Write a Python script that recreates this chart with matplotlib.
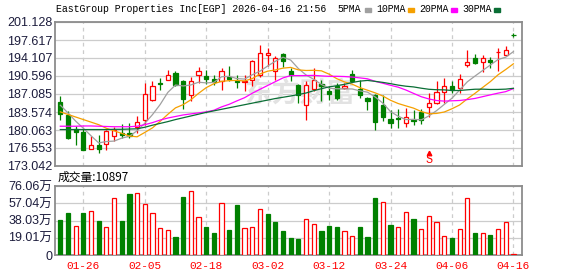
import numpy as np
import pandas as pd
import matplotlib.pyplot as plt
from matplotlib.transforms import blended_transform_factory

# trading days shown (Presidents Day and Good Friday closed)
dates = pd.bdate_range('2026-01-21', '2026-04-16')
dates = dates[~dates.isin(pd.to_datetime(['2026-02-16', '2026-04-03']))]
tick_labels = ['01-26', '02-05', '02-18', '03-02', '03-12', '03-24', '04-06', '04-16']

opens = [185.52, 182.99, 180.32, 179.67, 176.29, 177.13, 177.40, 178.83, 179.48, 179.48,
         180.58, 182.08, 185.85, 189.16, 189.75, 191.18, 189.68, 186.82, 190.72, 190.66,
         190.01, 189.68, 190.33, 189.68, 189.42, 189.81, 190.72, 194.63, 191.64, 194.89,
         191.64, 188.90, 185.00, 188.12, 189.03, 187.73, 188.58, 188.32, 190.98, 188.06,
         186.30, 186.82, 184.87, 182.27, 182.40, 181.36, 182.08, 183.51, 184.48, 185.26,
         187.47, 188.58, 188.25, 192.68, 194.11, 193.26, 193.72, 195.21, 194.76, 198.53]
highs = [186.63, 183.83, 180.78, 180.26, 178.83, 179.02, 180.06, 180.58, 181.23, 181.43,
         182.73, 189.23, 189.55, 190.21, 191.70, 191.51, 189.88, 190.33, 192.35, 191.83,
         190.85, 192.16, 192.48, 190.85, 190.85, 193.78, 196.64, 195.99, 194.43, 195.02,
         192.16, 189.10, 189.68, 192.16, 189.88, 188.58, 189.23, 189.23, 191.77, 189.88,
         186.50, 187.08, 186.95, 184.03, 184.16, 184.35, 184.03, 184.22, 187.28, 189.55,
         190.21, 189.68, 190.98, 195.73, 194.89, 194.63, 194.24, 196.06, 196.38, 198.98]
lows = [182.08, 178.31, 177.20, 176.22, 176.29, 175.64, 176.22, 177.98, 178.50, 178.50,
        179.48, 181.10, 185.65, 187.93, 189.75, 188.58, 184.22, 185.65, 189.23, 189.03,
        188.90, 187.93, 189.55, 188.25, 187.73, 188.58, 190.33, 192.52, 189.88, 192.42,
        189.68, 185.33, 182.08, 187.60, 185.78, 185.98, 185.98, 188.06, 189.42, 186.30,
        184.03, 180.13, 181.75, 180.45, 180.52, 180.71, 180.97, 181.23, 182.53, 185.13,
        185.33, 187.28, 187.28, 192.29, 193.00, 191.38, 192.16, 191.64, 194.63, 198.14]
closes = [183.25, 178.50, 179.67, 176.22, 177.07, 176.29, 179.80, 180.13, 179.09, 178.89,
          181.69, 187.02, 188.58, 188.97, 190.72, 188.90, 186.11, 189.55, 191.64, 190.07,
          189.36, 191.64, 189.94, 189.42, 189.62, 193.58, 195.10, 195.00, 194.04, 193.58,
          190.79, 186.82, 188.77, 189.75, 188.64, 187.08, 186.30, 188.64, 189.68, 186.82,
          185.78, 181.62, 182.60, 181.43, 182.30, 182.53, 181.88, 182.08, 185.26, 187.47,
          188.58, 187.93, 190.01, 193.33, 193.07, 194.04, 193.26, 195.34, 195.60, 198.53]
# volume in 万 shares
volumes = [38.6, 46.7, 32.0, 46.7, 48.1, 37.5, 30.5, 62.5, 37.5, 67.2,
           68.0, 56.2, 45.9, 29.4, 27.2, 19.8, 63.9, 70.2, 41.5, 30.9,
           24.6, 57.0, 27.6, 55.1, 29.4, 30.5, 50.7, 45.6, 36.7, 26.5,
           18.7, 17.6, 39.3, 34.2, 26.5, 32.0, 30.9, 26.5, 20.9, 30.9,
           19.8, 62.8, 58.1, 33.1, 30.5, 47.0, 39.7, 28.3, 42.6, 36.0,
           20.6, 18.7, 28.3, 62.5, 24.3, 24.3, 22.0, 28.3, 36.0, 1.09]
last_vol = 10897

# moving averages before enough visible closes exist
ma5_head = [184.9, 183.4, 181.8, 180.4]
ma10_head = [183.6, 183.1, 182.6, 182.1, 181.6, 181.1, 180.4, 179.9, 179.4]
ma20_head = [180.8, 180.8, 180.8, 180.85, 180.85, 180.8, 180.75, 180.7, 180.7, 180.7,
             180.8, 181.1, 181.5, 182.0, 182.4, 182.7, 183.0, 183.2, 183.4]
ma30_head = [180.15, 180.15, 180.15, 180.15, 180.15, 180.15, 180.15, 180.2, 180.2, 180.25,
             180.3, 180.6, 181.0, 181.35, 181.7, 182.1, 182.45, 182.8, 183.15, 183.5,
             183.8, 184.1, 184.4, 184.7, 185.0, 185.3, 185.6, 185.9, 186.2]

price_ticks = ['173.042', '176.553', '180.063', '183.574', '187.085',
               '190.596', '194.107', '197.617', '201.128']
vol_ticks = ['0', '19.01万', '38.03万', '57.04万', '76.06万']
signal_idx = 48

RED = '#ff0000'
GREEN = '#008000'
GRID = '#cccccc'
SPINE = '#8c8c8c'
LABEL = '#1c1c3c'
ma_colors = {5: '#a0a0a0', 10: '#f5a000', 20: '#ff00ff', 30: '#0a6e35'}

o = np.array(opens); h = np.array(highs); l = np.array(lows); c = np.array(closes)
x = np.arange(len(c))
cs = pd.Series(c)
mas = {}
for n, head in [(5, ma5_head), (10, ma10_head), (20, ma20_head), (30, ma30_head)]:
    m = cs.rolling(n).mean().to_numpy()
    m[:len(head)] = head
    mas[n] = m

W, H = 578, 276
fig = plt.figure(figsize=(W / 100, H / 100), dpi=100)
ax = fig.add_axes([55 / W, 1 - 166 / H, 467 / W, 144 / H])
axv = fig.add_axes([55 / W, 1 - 255 / H, 467 / W, 69 / H])

xlim = (-0.69, len(c) - 1 + 1.12)
tick_pos = [i for i, d in enumerate(dates.strftime('%m-%d')) if d in tick_labels]

for a in (ax, axv):
    a.set_xlim(*xlim)
    a.set_xticks(tick_pos)
    a.grid(True, axis='y', color=GRID, lw=0.9)
    a.grid(True, axis='x', color=GRID, lw=0.9, ls=(0, (3, 3)))
    a.set_axisbelow(True)
    a.tick_params(length=0)
    for s in a.spines.values():
        s.set_color(SPINE)
        s.set_linewidth(1.3)

# pale watermark
ax.text(0.525, 0.5, '东方财富', transform=ax.transAxes, ha='center', va='center',
        fontsize=20, fontweight='bold', color='#e2e2e2',
        family='Noto Sans CJK SC', zorder=0.6)

# candles
up = c > o
bw = 0.55
for i in x:
    col = RED if up[i] else GREEN
    ax.vlines(i, l[i], h[i], color=col, lw=0.9, zorder=2)
    bot = min(o[i], c[i])
    ht = max(abs(c[i] - o[i]), 0.06)
    ax.bar(i, ht, bottom=bot, width=bw, facecolor='white' if up[i] else col,
           edgecolor=col, linewidth=0.9, zorder=3)

for n, m in mas.items():
    ax.plot(x, m, color=ma_colors[n], lw=0.9, zorder=4)

ax.set_ylim(173.042, 201.128)
ax.set_yticks([float(t) for t in price_ticks])
ax.set_yticklabels(price_ticks, family='Liberation Sans', fontsize=9, color=LABEL)
ax.tick_params(axis='y', pad=2)
ax.set_xticklabels([])

# sell signal
tr = blended_transform_factory(ax.transData, ax.transAxes)
ax.plot(signal_idx, 0.09, marker='^', ms=3.2, color=RED, transform=tr, clip_on=False)
ax.text(signal_idx, 0.04, 'S', transform=tr, ha='center', va='center', color=RED,
        fontsize=8.5, family='Liberation Mono')

# volume, coloured by change against the previous close
vup = np.r_[False, c[1:] > c[:-1]]
for i in x:
    col = RED if vup[i] else GREEN
    axv.bar(i, volumes[i], width=bw, facecolor='white' if vup[i] else col,
            edgecolor=col, linewidth=0.9, zorder=3)
axv.set_ylim(0, 76.06)
axv.set_yticks([float(t.replace('万', '')) for t in vol_ticks])
axv.set_yticklabels(vol_ticks, family=['Liberation Sans', 'Noto Sans CJK SC'],
                    fontsize=9, color=LABEL)
axv.tick_params(axis='y', pad=2)
axv.set_xticklabels(tick_labels, family='Liberation Mono', fontsize=8, color=RED)
axv.tick_params(axis='x', pad=4)

# header
fig.text(55.5 / W, 1 - 9.5 / H, 'EastGroup Properties Inc[EGP] 2026-04-16 21:56',
         family='Liberation Mono', fontsize=7.1, va='center', ha='left')
legend_items = [('5PMA', 5, 337.7, 365), ('10PMA', 10, 376.7, 407.7),
                ('20PMA', 20, 419.3, 451), ('30PMA', 30, 462, 494)]
for label, n, tx, sx in legend_items:
    fig.text(tx / W, 1 - 9.5 / H, label, family='Liberation Mono', fontsize=7.1,
             va='center', ha='left')
    fig.patches.append(plt.Rectangle((sx / W, 1 - 11.5 / H), 6 / W, 3 / H,
                                     transform=fig.transFigure, color=ma_colors[n]))

fig.text(58 / W, 1 - 177 / H, f'成交量:{last_vol}', family=['Noto Sans CJK SC'],
         fontsize=8.5, va='center', ha='left')

fig.savefig('out.png', dpi=100)
